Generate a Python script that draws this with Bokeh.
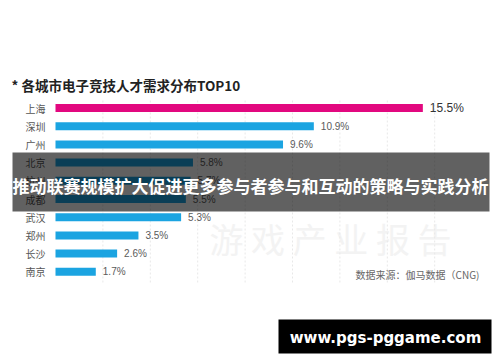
from bokeh.plotting import figure
from bokeh.models import ColumnDataSource, Range1d, BoxAnnotation, Label
from bokeh.core.properties import value
from bokeh.embed import file_html
from bokeh.resources import INLINE

# ---- data ----
cities = ["上海", "深圳", "广州", "北京", "杭州", "成都", "武汉", "郑州", "长沙", "南京"]
shares = [15.5, 10.9, 9.6, 5.8, 5.7, 5.5, 5.3, 3.5, 2.6, 1.7]
grid_ticks = [2, 4, 6, 8, 10, 12, 14, 16]
title_text = "* 各城市电子竞技人才需求分布TOP10"
source_text = "数据来源：伽马数据（CNG)"
banner_text = "推动联赛规模扩大促进更多参与者参与和互动的策略与实践分析"
url_text = "www.pgs-pggame.com"
watermark_text = "游 戏 产 业 报 告"

W, H = 500, 362
PX_PER_PCT = 23.7
X0 = 55.0      # px of 0%
ROW = 18.2
Y0 = 107.5     # px of first row center

def RX(xref):
    return (xref - X0) / PX_PER_PCT

def RY(yref):
    return (yref - Y0) / ROW

p = figure(width=W, height=H, output_backend="svg", toolbar_location=None,
           x_range=Range1d(-X0 / PX_PER_PCT, (W - X0) / PX_PER_PCT),
           y_range=Range1d((H - Y0) / ROW, -Y0 / ROW),
           min_border=0, background_fill_color="white", border_fill_color="white")
p.axis.visible = False
p.grid.visible = False
p.outline_line_color = None

idx = list(range(len(cities)))
colors = ["#e2087f"] + ["#1ba4e1"] * (len(cities) - 1)
label_colors = ["#333333"] + ["#5a5a5a"] * (len(cities) - 1)
label_sizes = ["12px"] + ["10px"] * (len(cities) - 1)
src = ColumnDataSource(dict(y=idx, v=shares, city=cities, color=colors,
                            lab=[f"{s}%" for s in shares], lc=label_colors, ls=label_sizes))

# watermark
p.text(x=[RX(330)], y=[RY(238)], text=[watermark_text], text_align="center",
       text_baseline="middle", text_font=value("Noto Sans CJK SC"),
       text_font_size="34px", text_color="#f3f3f3")

# faint grid lines
p.segment(x0=grid_ticks, x1=grid_ticks, y0=[RY(100)] * len(grid_ticks),
          y1=[RY(282)] * len(grid_ticks), line_color="#e8e8e8", line_dash="2 2", line_width=1)

p.hbar(y="y", right="v", left=0, height=0.44, fill_color="color", line_color=None, source=src)

p.text(x="v", y="y", text="lab", x_offset=7, text_align="left", text_baseline="middle",
       text_font=value("Liberation Sans"), text_font_size="ls", text_color="lc", source=src)

p.text(x=RX(45), y="y", text="city", text_align="right", text_baseline="middle",
       text_font=value("Noto Sans CJK SC"), text_font_size="10px", text_color="#555555",
       source=src)

# title
p.add_layout(Label(x=RX(11), y=RY(84), text=title_text, text_align="left",
                   text_baseline="middle", text_font="Noto Sans CJK SC",
                   text_font_style="bold", text_font_size="13.5px", text_color="#222222"))

# source note
p.add_layout(Label(x=RX(479), y=RY(274), text=source_text, text_align="right",
                   text_baseline="middle", text_font="Noto Sans CJK SC",
                   text_font_size="10px", text_color="#666666"))

# banner overlay
p.add_layout(BoxAnnotation(left=RX(12), right=RX(489), top=RY(152), bottom=RY(211),
                           fill_color="#000000", fill_alpha=0.62, line_color=None))
p.add_layout(Label(x=RX(250), y=RY(185), text=banner_text, text_align="center",
                   text_baseline="middle", text_font="Noto Sans CJK SC",
                   text_font_style="bold", text_font_size="17px", text_color="white"))

# url box
p.add_layout(BoxAnnotation(left=RX(278), right=RX(491), top=RY(319), bottom=RY(353),
                           fill_color="#000000", fill_alpha=1.0, line_color=None))
p.add_layout(Label(x=RX(385), y=RY(337), text=url_text, text_align="center",
                   text_baseline="middle", text_font="DejaVu Sans",
                   text_font_style="bold", text_font_size="15px", text_color="white"))

open("out.html", "w").write(file_html(p, INLINE))
